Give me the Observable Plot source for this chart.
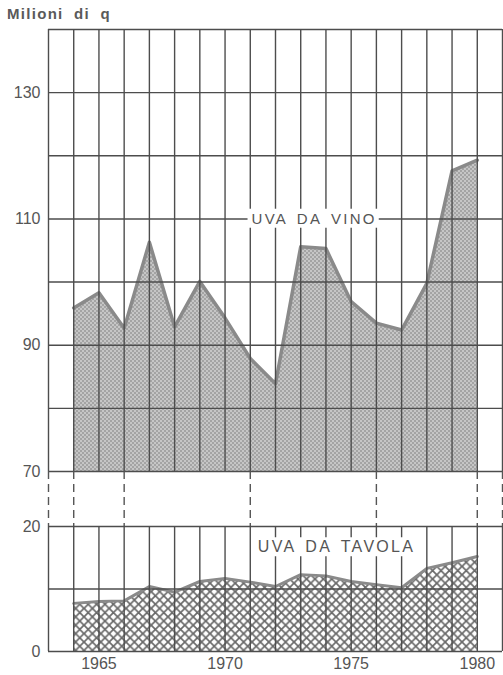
<!DOCTYPE html>
<html><head><meta charset="utf-8">
<script src="https://cdn.jsdelivr.net/npm/d3@7"></script>
<script src="https://cdn.jsdelivr.net/npm/@observablehq/plot@0.6"></script>
<style>
body{margin:0;background:#fff;overflow:hidden;}
#title{position:absolute;left:7px;top:5px;font:bold 15px "Liberation Sans",Arial,sans-serif;color:#5a5a5a;letter-spacing:1.3px;word-spacing:5px;}
.panel{position:absolute;left:0;}
</style></head><body>
<svg width="0" height="0" style="position:absolute"><defs>
<pattern id="stipple" width="4" height="4" patternUnits="userSpaceOnUse"><rect width="4" height="4" fill="#c6c6c6"/><rect width="2" height="2" fill="#a4a4a4"/><rect x="2" y="2" width="2" height="2" fill="#a4a4a4"/></pattern>
<pattern id="hatch" width="8.4" height="8.4" patternUnits="userSpaceOnUse"><rect width="8.4" height="8.4" fill="#fff"/><path d="M-1,-1L9.4,9.4M-1,9.4L9.4,-1" stroke="#6a6a6a" stroke-width="1.7"/></pattern>
</defs></svg>
<div id="title">Milioni di q</div>
<div id="top" class="panel" style="top:22px"></div>
<div id="gap" class="panel" style="top:471px"></div>
<div id="bottom" class="panel" style="top:516px"></div>
<script>
const years = [1964,1965,1966,1967,1968,1969,1970,1971,1972,1973,1974,1975,1976,1977,1978,1979,1980];
const uvaDaVino = [95.9,98.3,92.7,106.3,92.9,100.1,94.3,87.9,83.9,105.6,105.3,96.9,93.5,92.4,99.8,117.6,119.3];
const uvaDaTavola = [7.7,8.0,8.1,10.4,9.5,11.2,11.7,11.1,10.4,12.3,12.1,11.2,10.7,10.2,13.3,14.2,15.2];

const gridYears = [1963,1964,1965,1966,1967,1968,1969,1970,1971,1972,1973,1974,1975,1976,1977,1978,1979,1980,1981];
const topGrid = [70,80,90,100,110,120,130,140];
const bottomGrid = [0,10,20];
const connectorYears = [1963,1964,1966,1971,1976,1980,1981];
const topTicks = [70,90,110,130];
const bottomTicks = [0,20];
const xTicks = [1965,1970,1975,1980];
const labels = [
  {panel:"top", text:"UVA DA VINO", x:1971.05, y:110, size:15},
  {panel:"bottom", text:"UVA DA TAVOLA", x:1971.3, y:16.7, size:16}
];

const vino = years.map((year,i)=>({year, value:uvaDaVino[i]}));
const tavola = years.map((year,i)=>({year, value:uvaDaTavola[i]}));

const gridStyle = {stroke:"#4d4d4d", strokeWidth:1.4};
const common = {
  width:503, marginLeft:48, marginRight:1,
  style:{fontFamily:"'Liberation Sans', Arial, sans-serif", fontSize:"16px", color:"#555", background:"transparent", overflow:"visible"}
};
const xDomain = [1963,1981];
const labelMark = (panel) => Plot.text(labels.filter(d=>d.panel===panel), {x:"x", y:"y", text:"text", fontSize:d=>d.size, textAnchor:"start", fill:"#555", ariaLabel:"series-label"});

const topChart = Plot.plot({
  ...common, height:452, marginTop:7, marginBottom:3,
  x:{domain:xDomain, axis:null},
  y:{domain:[70,140], ticks:topTicks, tickSize:0, tickPadding:8, label:null},
  marks:[
    Plot.areaY(vino, {x:"year", y1:70, y2:"value", fill:"url(#stipple)"}),
    Plot.lineY(vino, {x:"year", y:"value", stroke:"#8a8a8a", strokeWidth:3.5}),
    Plot.ruleY(topGrid, {y:d=>d, x1:1963, x2:1981, ...gridStyle}),
    Plot.ruleX(gridYears, {x:d=>d, y1:70, y2:140, ...gridStyle}),
    labelMark("top")
  ]
});

const gapChart = Plot.plot({
  ...common, height:55, marginTop:0, marginBottom:0,
  x:{domain:xDomain, axis:null},
  marks:[
    Plot.ruleX(connectorYears, {x:d=>d, stroke:"#555", strokeWidth:1.4, strokeDasharray:"8,5"})
  ]
});

const bottomChart = Plot.plot({
  ...common, height:159, marginTop:10, marginBottom:24,
  x:{domain:xDomain, ticks:xTicks, tickFormat:d=>String(d), tickSize:0, tickPadding:6, label:null},
  y:{domain:[0,20], ticks:bottomTicks, tickSize:0, tickPadding:8, label:null},
  marks:[
    Plot.areaY(tavola, {x:"year", y1:0, y2:"value", fill:"url(#hatch)"}),
    Plot.lineY(tavola, {x:"year", y:"value", stroke:"#8a8a8a", strokeWidth:3}),
    Plot.ruleY(bottomGrid, {y:d=>d, x1:1963, x2:1981, ...gridStyle}),
    Plot.ruleX(gridYears, {x:d=>d, y1:0, y2:20, ...gridStyle}),
    labelMark("bottom")
  ]
});

document.getElementById("top").appendChild(topChart);
document.getElementById("gap").appendChild(gapChart);
document.getElementById("bottom").appendChild(bottomChart);

// white box behind each series label, sized from the rendered text
document.querySelectorAll(".panel text").forEach(t => {
  if (!t.textContent.startsWith("UVA")) return;
  t.style.letterSpacing = "2.3px";
  t.style.wordSpacing = "3px";
  const b = t.getBBox();
  const r = document.createElementNS("http://www.w3.org/2000/svg", "rect");
  r.setAttribute("x", b.x - 4);
  r.setAttribute("y", b.y - 1);
  r.setAttribute("width", b.width + 6);
  r.setAttribute("height", b.height + 2);
  r.setAttribute("fill", "white");
  if (t.getAttribute("transform")) r.setAttribute("transform", t.getAttribute("transform"));
  t.parentNode.insertBefore(r, t);
});
</script>
</body></html>
